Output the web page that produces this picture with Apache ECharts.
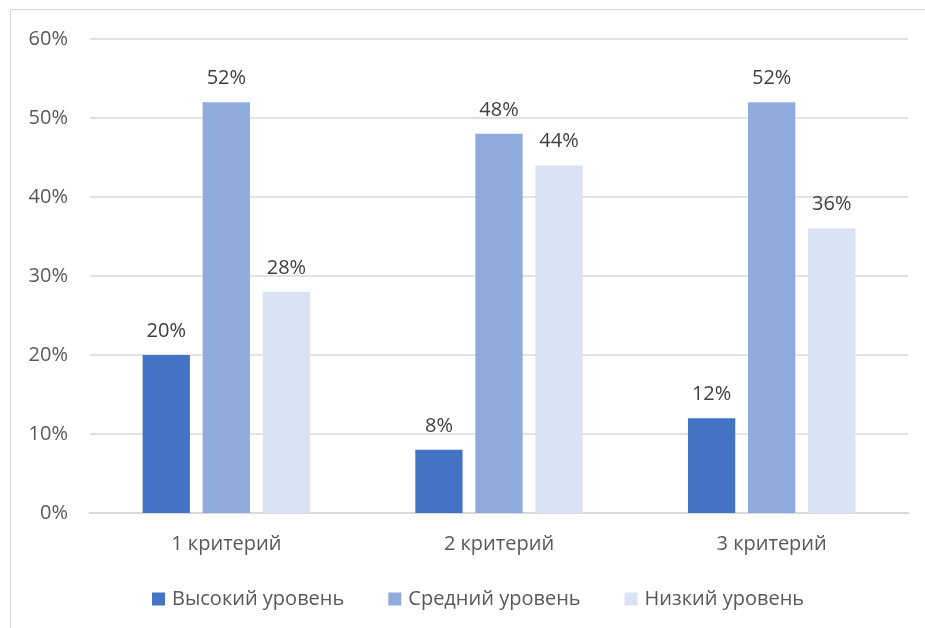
<!DOCTYPE html>
<html><head><meta charset="utf-8">
<script src="https://cdn.jsdelivr.net/npm/echarts@6/dist/echarts.min.js"></script>
<style>html,body{margin:0;padding:0;background:#fff}#c{width:925px;height:628px}</style>
</head><body><div id="c"></div>
<script>
const categories = ['1 критерий', '2 критерий', '3 критерий'];
const seriesNames = ['Высокий уровень', 'Средний уровень', 'Низкий уровень'];
const high = [20, 8, 12];
const mid = [52, 48, 52];
const low = [28, 44, 36];
const colors = ['#4472C4', '#8FAADC', '#DAE3F3'];
const font = 'Open Sans, Noto Sans, sans-serif';
const chart = echarts.init(document.getElementById('c'));
const mk = (name, data, color) => ({
  name, type: 'bar', data, barGap: '27%', barCategoryGap: '38.6%',
  itemStyle: { color },
  label: { show: true, position: 'top', distance: 14, formatter: '{c}%', color: '#404040', fontSize: 20, fontFamily: font }
});
chart.setOption({
  animation: false,
  graphic: [{ type: 'rect', shape: { x: 10.5, y: 9.5, width: 940, height: 640 }, style: { fill: 'none', stroke: '#d9d9d9', lineWidth: 1 }, silent: true }],
  grid: { left: 90, right: 17, top: 39, bottom: 115 },
  legend: {
    bottom: 14, left: 147, icon: 'rect', itemWidth: 13, itemHeight: 13, itemGap: 44,
    textStyle: { color: '#595959', fontSize: 20, fontFamily: font, padding: [0, 0, 0, 2] },
    data: seriesNames
  },
  xAxis: {
    type: 'category', data: categories,
    axisLine: { lineStyle: { color: '#d9d9d9', width: 2 } },
    axisTick: { show: false },
    axisLabel: { color: '#595959', fontSize: 20, fontFamily: font, margin: 21 }
  },
  yAxis: {
    type: 'value', min: 0, max: 60, interval: 10,
    axisLine: { show: false }, axisTick: { show: false },
    splitLine: { lineStyle: { color: '#d9d9d9', width: 1.5 } },
    axisLabel: { formatter: '{value}%', color: '#595959', fontSize: 20, fontFamily: font, margin: 22 }
  },
  series: [mk(seriesNames[0], high, colors[0]), mk(seriesNames[1], mid, colors[1]), mk(seriesNames[2], low, colors[2])]
});
</script></body></html>
